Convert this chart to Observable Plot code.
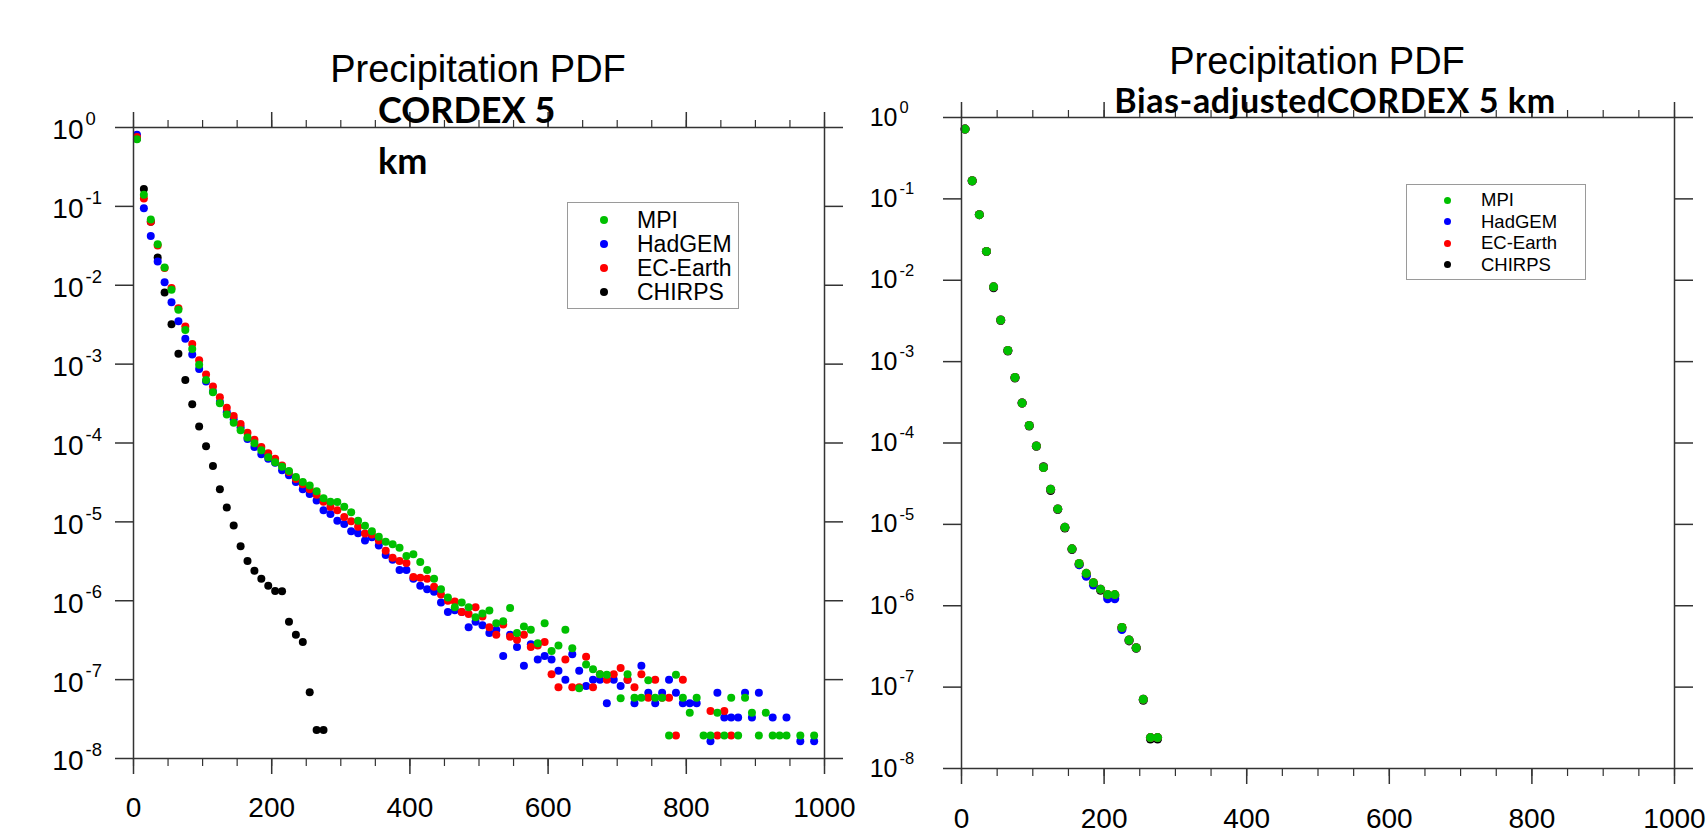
<!DOCTYPE html>
<html>
<head>
<meta charset="utf-8">
<script src="https://cdn.jsdelivr.net/npm/d3@7"></script>
<script src="https://cdn.jsdelivr.net/npm/@observablehq/plot@0.6"></script>
<style>
  html, body { margin: 0; padding: 0; background: #fff; }
  #page { position: relative; width: 1707px; height: 835px; overflow: hidden; background: #fff; }
  .panel { position: absolute; top: 0; }
  .ttl { position: absolute; white-space: nowrap; color: #000; z-index: 5; }
  .t1 { font-family: "Liberation Sans", Arial, Helvetica, sans-serif; font-size: 38px; line-height: 1; }
  .t2 { font-family: Lato, "Open Sans", sans-serif; font-weight: 700; font-size: 36px; line-height: 1; }
  .t3 { font-family: Lato, "Open Sans", sans-serif; font-weight: 700; font-size: 34px; line-height: 1; letter-spacing: 0.6px; }
  .legend { position: absolute; background: #fff; border: 1.5px solid #9a9a9a; z-index: 4;
            font-family: "Liberation Sans", Arial, Helvetica, sans-serif; color: #000; }
  .legend .row { position: absolute; left: 0; white-space: nowrap; }
  .legend .dot { position: absolute; border-radius: 50%; }
</style>
</head>
<body>
<div id="page"></div>
<script>
// ---------- data ----------
// bin centres (mm/day)
const bins = d3.range(5, 1000, 10);

// left panel: CORDEX 5 km  (probability density, null = empty bin)
const mpiLeft = [
  7.1e-1, 1.40e-1, 6.8e-2, 3.3e-2, 1.68e-2, 8.8e-3, 4.9e-3, 2.7e-3, 1.55e-3, 9.8e-4,
  6.3e-4, 4.4e-4, 3.2e-4, 2.3e-4, 1.8e-4, 1.45e-4, 1.17e-4, 9.9e-5, 8.1e-5, 6.6e-5,
  5.7e-5, 5.0e-5, 4.4e-5, 3.7e-5, 3.2e-5, 2.9e-5, 2.45e-5, 2.0e-5, 1.8e-5, 1.78e-5,
  1.55e-5, 1.32e-5, 1.03e-5, 8.9e-6, 7.6e-6, 6.5e-6, 5.6e-6, 5.2e-6, 4.7e-6, 3.7e-6,
  3.9e-6, 3.1e-6, 2.45e-6, 1.9e-6, 1.4e-6, 1.1e-6, 8.3e-7, 9.5e-7, 8.3e-7, 6.2e-7,
  6.9e-7, 7.5e-7, 5.2e-7, 5.5e-7, 8.1e-7, 3.9e-7, 4.7e-7, 4.3e-7, 2.9e-7, 5.2e-7,
  2.3e-7, 2.7e-7, 4.3e-7, 2.5e-7, 7.8e-8, 1.55e-7, 1.35e-7, 1.17e-7, 1.15e-7, null,
  5.8e-8, 1.17e-7, 5.9e-8, 5.9e-8, 9.8e-8, 5.9e-8, 5.9e-8, 1.95e-8, 1.15e-7, 5.9e-8,
  3.8e-8, 5.9e-8, 1.95e-8, 1.95e-8, 3.8e-8, 1.95e-8, 5.9e-8, 1.95e-8, 5.9e-8, 3.8e-8,
  1.95e-8, 3.8e-8, 1.95e-8, 1.95e-8, 1.95e-8, null, 1.95e-8, null, 1.95e-8
];
const hadgemLeft = [
  8.1e-1, 9.5e-2, 4.2e-2, 2.0e-2, 1.09e-2, 6.1e-3, 3.5e-3, 2.1e-3, 1.32e-3, 8.7e-4,
  6.0e-4, 4.5e-4, 3.3e-4, 2.45e-4, 2.0e-4, 1.58e-4, 1.12e-4, 8.9e-5, 7.2e-5, 6.3e-5,
  5.6e-5, 4.5e-5, 3.9e-5, 3.2e-5, 2.6e-5, 2.25e-5, 1.86e-5, 1.4e-5, 1.26e-5, 1.03e-5,
  9.4e-6, 7.6e-6, 7.2e-6, 5.8e-6, 6.4e-6, 5.0e-6, 3.8e-6, 3.3e-6, 2.45e-6, 2.45e-6,
  1.9e-6, 1.55e-6, 1.4e-6, 1.3e-6, 9.5e-7, 7.2e-7, 7.6e-7, 7.2e-7, 4.6e-7, 5.4e-7,
  4.9e-7, 3.9e-7, 4.3e-7, 2.0e-7, 3.7e-7, 2.6e-7, 1.5e-7, 2.8e-7, 1.8e-7, 2.0e-7,
  1.8e-7, 1.3e-7, 1.0e-7, 2.1e-7, 1.3e-7, 8.3e-8, 1.0e-7, 1.0e-7, 5.0e-8, 1.0e-7,
  8.3e-8, 1.0e-7, 5.0e-8, 1.5e-7, 6.8e-8, 5.0e-8, 6.8e-8, 1.0e-7, 6.8e-8, 5.0e-8,
  5.0e-8, 5.0e-8, null, 1.66e-8, 6.8e-8, 3.3e-8, 3.3e-8, 3.3e-8, 6.8e-8, 3.3e-8,
  6.8e-8, null, 3.3e-8, null, 3.3e-8, null, 1.66e-8, null, 1.66e-8
];
const ecearthLeft = [
  7.6e-1, 1.26e-1, 6.4e-2, 3.2e-2, 1.66e-2, 9.2e-3, 5.1e-3, 3.0e-3, 1.8e-3, 1.12e-3,
  7.4e-4, 5.2e-4, 3.8e-4, 2.8e-4, 2.2e-4, 1.74e-4, 1.35e-4, 1.1e-4, 8.9e-5, 7.4e-5,
  6.3e-5, 5.2e-5, 4.3e-5, 3.5e-5, 3.0e-5, 2.6e-5, 2.2e-5, 1.8e-5, 1.55e-5, 1.4e-5,
  1.15e-5, 1.02e-5, 8.7e-6, 7.1e-6, 6.9e-6, 5.8e-6, 4.3e-6, 3.5e-6, 3.2e-6, 3.0e-6,
  2.0e-6, 1.95e-6, 1.9e-6, 1.5e-6, 1.2e-6, 1.0e-6, 9.8e-7, 7.2e-7, 6.8e-7, 8.3e-7,
  6.3e-7, 4.6e-7, 3.7e-7, 5.0e-7, 3.5e-7, 3.2e-7, 3.7e-7, 2.6e-7, 2.7e-7, 3.0e-7,
  1.17e-7, 8.0e-8, 1.8e-7, 8.0e-8, 8.0e-8, 1.95e-7, 8.0e-8, 1.17e-7, 1.0e-7, 1.17e-7,
  1.4e-7, 1.0e-7, 8.0e-8, 1.17e-7, 5.9e-8, 1.0e-7, 5.9e-8, 5.9e-8, 1.95e-8, 1.0e-7,
  null, null, null, 4.0e-8, 1.95e-8, 4.0e-8, 1.95e-8, null, null, null,
  null, null, null, null, null, null, null, null, null
];
const chirpsLeft = [
  7.2e-1, 1.66e-1, 6.4e-2, 2.25e-2, 8.1e-3, 3.2e-3, 1.35e-3, 6.3e-4, 3.1e-4, 1.62e-4,
  9.1e-5, 5.1e-5, 2.6e-5, 1.52e-5, 9.0e-6, 4.9e-6, 3.2e-6, 2.4e-6, 1.9e-6, 1.55e-6,
  1.33e-6, 1.32e-6, 5.4e-7, 3.7e-7, 3.0e-7, 6.9e-8, 2.3e-8, 2.3e-8
];

// right panel: Bias-adjusted CORDEX 5 km
const mpiRight = [
  7.2e-1, 1.67e-1, 6.4e-2, 2.26e-2, 8.3e-3, 3.25e-3, 1.37e-3, 6.4e-4, 3.1e-4, 1.64e-4,
  9.2e-5, 5.0e-5, 2.7e-5, 1.55e-5, 9.2e-6, 5.0e-6, 3.3e-6, 2.5e-6, 1.92e-6, 1.6e-6,
  1.37e-6, 1.37e-6, 5.4e-7, 3.8e-7, 3.05e-7, 7.1e-8, 2.4e-8, 2.4e-8
];
const hadgemRight = [
  7.2e-1, 1.67e-1, 6.4e-2, 2.26e-2, 8.3e-3, 3.25e-3, 1.37e-3, 6.4e-4, 3.1e-4, 1.64e-4,
  9.2e-5, 5.0e-5, 2.7e-5, 1.55e-5, 9.2e-6, 5.0e-6, 3.2e-6, 2.3e-6, 1.8e-6, 1.6e-6,
  1.22e-6, 1.22e-6, 5.1e-7, 3.8e-7, 3.05e-7, 7.1e-8, 2.4e-8, 2.4e-8
];
const ecearthRight = [
  7.2e-1, 1.67e-1, 6.4e-2, 2.26e-2, 8.3e-3, 3.25e-3, 1.37e-3, 6.4e-4, 3.1e-4, 1.64e-4,
  9.2e-5, 5.0e-5, 2.7e-5, 1.55e-5, 9.2e-6, 5.0e-6, 3.3e-6, 2.5e-6, 1.92e-6, 1.6e-6,
  1.37e-6, 1.37e-6, 5.4e-7, 3.8e-7, 3.05e-7, 7.1e-8, 2.4e-8, 2.4e-8
];
const chirpsRight = chirpsLeft;

const seriesNames = ["MPI", "HadGEM", "EC-Earth", "CHIRPS"];
const seriesColors = ["#00c000", "#0000ff", "#ff0000", "#000000"];
const xMajorTicks = [0, 200, 400, 600, 800, 1000];
const xMinorTicks = d3.range(0, 1001, 50);
const yDecades = [1e0, 1e-1, 1e-2, 1e-3, 1e-4, 1e-5, 1e-6, 1e-7, 1e-8];
const yExponents = ["0", "-1", "-2", "-3", "-4", "-5", "-6", "-7", "-8"];

// ---------- helpers ----------
function rows(values, name) {
  return values.map((v, i) => ({x: bins[i], y: v, s: name})).filter(d => d.y != null);
}
const axisColor = "#333";

function panel(opts) {
  // draw order: CHIRPS, HadGEM, EC-Earth, MPI (MPI on top)
  const data = [
    ...rows(opts.chirps, "CHIRPS"),
    ...rows(opts.hadgem, "HadGEM"),
    ...rows(opts.ecearth, "EC-Earth"),
    ...rows(opts.mpi, "MPI")
  ];
  const labIdx = yDecades.map((d, i) => ({v: d, e: yExponents[i]}));
  return Plot.plot({
    width: opts.width,
    height: 835,
    marginLeft: opts.ml,
    marginRight: opts.mr,
    marginTop: opts.mt,
    marginBottom: opts.mb,
    style: {fontFamily: "'Liberation Sans', Arial, Helvetica, sans-serif", fontSize: "28px", color: "#000", background: "transparent", overflow: "visible"},
    x: {domain: [0, 1000], label: null},
    y: {type: "log", domain: [1e-8, 1], label: null},
    color: {domain: seriesNames, range: seriesColors},
    marks: [
      Plot.dot(data, {x: "x", y: "y", fill: d => d.s, r: opts.r, stroke: null}),
      Plot.axisX({anchor: "bottom", ticks: xMinorTicks, tickSize: 8, tickFormat: () => "", stroke: axisColor, strokeWidth: 1.2}),
      Plot.axisX({anchor: "bottom", ticks: xMajorTicks, tickSize: 16, tickFormat: () => "", stroke: axisColor, strokeWidth: 1.5}),
      Plot.axisX({anchor: "bottom", ticks: xMajorTicks, tickSize: 0, tickPadding: opts.xPad, tickFormat: d => String(d), fontSize: 28}),
      Plot.axisX({anchor: "top", ticks: xMinorTicks, tickSize: 8, tickFormat: () => "", stroke: axisColor, strokeWidth: 1.2}),
      Plot.axisX({anchor: "top", ticks: xMajorTicks, tickSize: 16, tickFormat: () => "", stroke: axisColor, strokeWidth: 1.5}),
      Plot.axisY({anchor: "left", ticks: yDecades, tickSize: 18, tickFormat: () => "", stroke: axisColor, strokeWidth: 1.5}),
      Plot.axisY({anchor: "right", ticks: yDecades, tickSize: 18, tickFormat: () => "", stroke: axisColor, strokeWidth: 1.5}),
      Plot.text(labIdx, {y: "v", frameAnchor: "left", text: () => "10", textAnchor: "end", dx: opts.labDx, dy: opts.labDy, fontSize: opts.labFs}),
      Plot.text(labIdx, {y: "v", frameAnchor: "left", text: "e", textAnchor: "start", dx: opts.labDx + 2, dy: opts.labDy - opts.labFs * 0.4, fontSize: opts.labFs * 0.66}),
      Plot.frame({stroke: axisColor, strokeWidth: 1.5})
    ]
  });
}

const page = document.getElementById("page");

const left = panel({width: 862, ml: 133, mr: 38, mt: 127, mb: 77, r: 4,
  mpi: mpiLeft, hadgem: hadgemLeft, ecearth: ecearthLeft, chirps: chirpsLeft,
  xPad: 39, labDx: -50, labDy: 3, labFs: 28});
left.classList.add("panel");
left.style.left = "0px";
page.appendChild(left);

const right = panel({width: 845, ml: 99, mr: 33, mt: 117, mb: 67, r: 4.5,
  mpi: mpiRight, hadgem: hadgemRight, ecearth: ecearthRight, chirps: chirpsRight,
  xPad: 40, labDx: -64, labDy: 0, labFs: 25});
right.classList.add("panel");
right.style.left = "862px";
page.appendChild(right);

// ---------- titles ----------
function addText(cls, txt, x, y, anchorCenter) {
  const d = document.createElement("div");
  d.className = "ttl " + cls;
  d.textContent = txt;
  d.style.left = x + "px";
  d.style.top = y + "px";
  if (anchorCenter) d.style.transform = "translateX(-50%)";
  page.appendChild(d);
}
addText("t1", "Precipitation PDF", 478, 50, true);
addText("t2", "CORDEX 5", 378, 91, false);
addText("t2", "km", 378, 142, false);
addText("t1", "Precipitation PDF", 1317, 42, true);
addText("t3", "Bias-adjustedCORDEX 5 km", 1335, 83, true);

// ---------- legends ----------
function addLegend(x, y, w, h, dotX, textX, rowY, rowH, fs, lh, dotR) {
  const box = document.createElement("div");
  box.className = "legend";
  box.style.left = x + "px"; box.style.top = y + "px";
  box.style.width = w + "px"; box.style.height = h + "px";
  seriesNames.forEach((name, i) => {
    const cy = rowY + i * rowH;
    const dot = document.createElement("div");
    dot.className = "dot";
    dot.style.width = dot.style.height = (2 * dotR) + "px";
    dot.style.left = (dotX - dotR) + "px";
    dot.style.top = (cy - dotR) + "px";
    dot.style.background = seriesColors[i];
    box.appendChild(dot);
    const t = document.createElement("div");
    t.className = "row";
    t.textContent = name;
    t.style.left = textX + "px";
    t.style.fontSize = fs + "px";
    t.style.lineHeight = lh + "px";
    t.style.top = (cy - lh / 2) + "px";
    box.appendChild(t);
  });
  page.appendChild(box);
}
addLegend(567, 202, 170, 105, 36, 69, 17, 24, 23, 22, 4);
addLegend(1406, 184, 178, 94, 40, 74, 15, 21.5, 18.5, 20, 3.5);
</script>
</body>
</html>
